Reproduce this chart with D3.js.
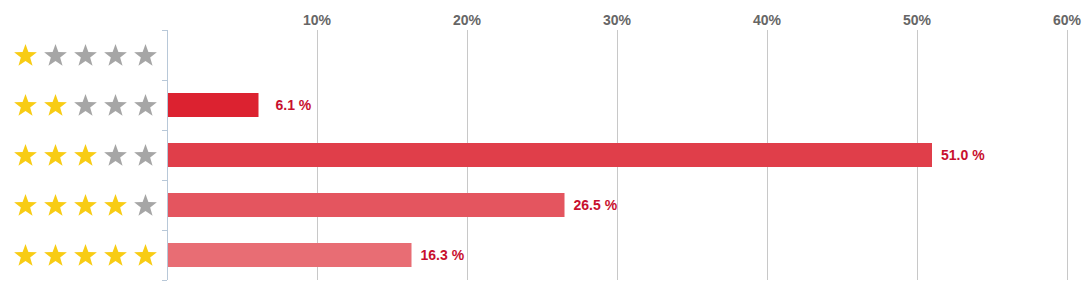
<!DOCTYPE html>
<html>
<head>
<meta charset="utf-8">
<script src="https://cdn.jsdelivr.net/npm/d3@7"></script>
<style>
  html, body { margin: 0; padding: 0; background: #fff; }
  svg { display: block; font-family: "Liberation Sans", Arial, sans-serif; }
</style>
</head>
<body>
<svg id="chart" width="1088" height="295"></svg>
<script>
var ratings = [1, 2, 3, 4, 5];
var shares = [0, 6.1, 51.0, 26.5, 16.3];
var barColors = ["#dc2230", "#dc2230", "#e03e4a", "#e4555f", "#e86d74"];
var xTicks = [10, 20, 30, 40, 50, 60];

var svg = d3.select("svg#chart");
var plotLeft = 167, plotRight = 1067, plotTop = 30, plotBottom = 280;

var x = d3.scaleLinear().domain([0, 60]).range([plotLeft, plotRight]);
var y = d3.scaleBand().domain(ratings).range([plotTop, plotBottom]).paddingInner(0.52).paddingOuter(0.26);
var yEdges = d3.scaleLinear().domain([0, ratings.length]).range([plotTop, plotBottom]);

// vertical gridlines
svg.append("g").selectAll("line")
   .data(xTicks)
   .join("line")
   .attr("x1", d => x(d) + 0.5).attr("x2", d => x(d) + 0.5)
   .attr("y1", plotTop).attr("y2", plotBottom)
   .attr("stroke", "#c8c8c8")
   .attr("stroke-width", 1);

// top tick labels
svg.append("g").selectAll("text")
   .data(xTicks)
   .join("text")
   .attr("x", d => x(d))
   .attr("y", 25)
   .attr("text-anchor", "middle")
   .style("font", "bold 14px 'Liberation Sans', Arial, sans-serif")
   .style("fill", "#666")
   .text(d => d + "%");

// y axis with short ticks on band edges
var yAxis = svg.append("g");
yAxis.append("line")
   .attr("x1", plotLeft + 0.5).attr("x2", plotLeft + 0.5)
   .attr("y1", plotTop).attr("y2", plotBottom)
   .attr("stroke", "#b8c8d8");
yAxis.selectAll("line.tick")
   .data(d3.range(ratings.length + 1))
   .join("line")
   .attr("class", "tick")
   .attr("x1", plotLeft - 5).attr("x2", plotLeft)
   .attr("y1", d => yEdges(d) + 0.5).attr("y2", d => yEdges(d) + 0.5)
   .attr("stroke", "#b8c8d8");

// bars
svg.append("g").selectAll("rect")
   .data(ratings.filter((r, i) => shares[i] > 0))
   .join("rect")
   .attr("x", x(0) + 1)
   .attr("y", d => y(d))
   .attr("width", d => x(shares[d - 1]) - x(0) - 1)
   .attr("height", y.bandwidth())
   .attr("fill", d => barColors[d - 1]);

// value labels
svg.append("g").selectAll("text")
   .data(ratings.filter((r, i) => shares[i] > 0))
   .join("text")
   .attr("x", d => x(shares[d - 1]) + (shares[d - 1] < 10 ? 17 : 9))
   .attr("y", d => y(d) + y.bandwidth() / 2 + 5)
   .style("font", "bold 14px 'Liberation Sans', Arial, sans-serif")
   .style("fill", "#c8102e")
   .text(d => shares[d - 1].toFixed(1) + " %");

// star labels
function starPath(cx, cy, R, r) {
  var pts = [];
  for (var i = 0; i < 10; i++) {
    var a = -Math.PI / 2 + i * Math.PI / 5;
    var rad = i % 2 === 0 ? R : r;
    pts.push([cx + rad * Math.cos(a), cy + rad * Math.sin(a)]);
  }
  return "M" + pts.map(p => p[0].toFixed(2) + "," + p[1].toFixed(2)).join("L") + "Z";
}
var starX = d3.scalePoint().domain(d3.range(5)).range([25.5, 145.5]);
ratings.forEach(function(r) {
  var cy = y(r) + y.bandwidth() / 2 + 1;
  svg.append("g").selectAll("path")
     .data(d3.range(5))
     .join("path")
     .attr("d", i => starPath(starX(i), cy, 12, 4.9))
     .attr("fill", i => i < r ? "#f8cc14" : "#a6a6a6");
});
</script>
</body>
</html>
